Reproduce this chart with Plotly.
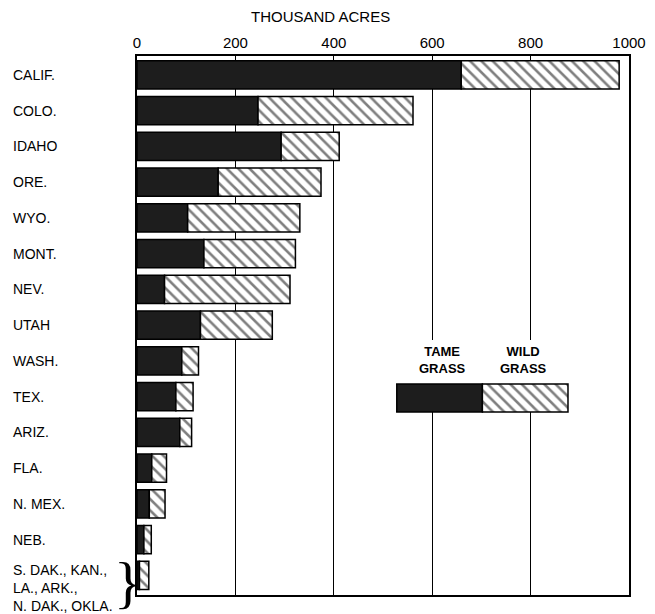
import plotly.graph_objects as go

# ---- data (thousand acres) ----
states = ["CALIF.", "COLO.", "IDAHO", "ORE.", "WYO.", "MONT.", "NEV.", "UTAH",
          "WASH.", "TEX.", "ARIZ.", "FLA.", "N. MEX.", "NEB.",
          "S. DAK., KAN.,<br>LA., ARK.,<br>N. DAK., OKLA."]
tame = [659, 246, 293, 165, 103, 136, 56, 129, 91, 79, 87, 30, 25, 14, 5]
total = [980, 561, 411, 374, 331, 322, 311, 275, 125, 114, 111, 60, 57, 29, 24]
wild = [t - m for t, m in zip(total, tame)]
x_ticks = [0, 200, 400, 600, 800, 1000]

# legend sample widths (data units on the x scale)
legend_start = 528
legend_tame = 174
legend_wild = 174

FONT = "Liberation Sans, Arial, sans-serif"
OFF = 8                      # page body margin offset
W, H = 655 - OFF, 614 - OFF
L, R, T, B = 137 - OFF, 26, 56 - OFF, 19
PW = W - L - R
PH = H - T - B


def py(pix):
    """window pixel row -> paper/y2 y (0..1 over plot area, bottom=0)"""
    return (H - B - (pix - OFF)) / PH


def px(pix):
    """window pixel column -> paper x"""
    return (pix - OFF - L) / PW


fig = go.Figure()
idx = list(range(len(states)))
hatch = dict(shape="\\", size=8, solidity=0.32, fgcolor="black", bgcolor="white")
dark = "#1d1d1d"

fig.add_trace(go.Bar(
    y=idx, x=tame, orientation="h", name="TAME GRASS",
    marker=dict(color=dark, line=dict(color="black", width=1.5)),
))
fig.add_trace(go.Bar(
    y=idx, x=wild, base=tame, orientation="h", name="WILD GRASS",
    marker=dict(color="white", line=dict(color="black", width=1.5), pattern=hatch),
))

# white block behind legend text (breaks the gridlines)
fig.add_trace(go.Bar(
    y=[(py(340) + py(384)) / 2], x=[legend_tame + legend_wild + 10],
    base=[legend_start - 5], orientation="h", yaxis="y2",
    width=py(340) - py(384), showlegend=False, hoverinfo="skip",
    marker=dict(color="white", line=dict(width=0)),
))
# legend sample bar
leg_y = py(398)
fig.add_trace(go.Bar(
    y=[leg_y], x=[legend_tame], base=[legend_start], orientation="h",
    yaxis="y2", width=py(384) - py(412), showlegend=False,
    marker=dict(color=dark, line=dict(color="black", width=1.5)),
))
fig.add_trace(go.Bar(
    y=[leg_y], x=[legend_wild], base=[legend_start + legend_tame], orientation="h",
    yaxis="y2", width=py(384) - py(412), showlegend=False,
    marker=dict(color="white", line=dict(color="black", width=1.5), pattern=hatch),
))

annotations = []
for i, s in enumerate(states):
    annotations.append(dict(
        x=px(11), xref="paper", y=i, yref="y",
        yshift=-13 if "<br>" in s else 0,
        text=s, showarrow=False, xanchor="left", yanchor="middle",
        align="left", font=dict(family=FONT, size=14, color="black"),
    ))
# brace for grouped states
annotations.append(dict(
    x=px(128), xref="paper", y=py(582), yref="paper",
    text="}", showarrow=False, xanchor="center", yanchor="middle",
    font=dict(family="Liberation Serif", size=58, color="black"),
))
# axis title
annotations.append(dict(
    x=px(320), xref="paper", y=py(17), yref="paper",
    text="THOUSAND ACRES", showarrow=False, xanchor="center", yanchor="middle",
    font=dict(family=FONT, size=15, color="black"),
))
# legend texts
annotations.append(dict(
    x=legend_start + legend_tame * 0.53, xref="x", y=py(360), yref="y2",
    text="<b>TAME<br>GRASS</b>", showarrow=False, xanchor="center", yanchor="middle",
    font=dict(family=FONT, size=13, color="black"),
))
annotations.append(dict(
    x=legend_start + legend_tame + legend_wild * 0.48, xref="x", y=py(360), yref="y2",
    text="<b>WILD<br>GRASS</b>", showarrow=False, xanchor="center", yanchor="middle",
    font=dict(family=FONT, size=13, color="black"),
))

fig.update_layout(
    width=W, height=H,
    margin=dict(l=L, r=R, t=T, b=B, autoexpand=False),
    paper_bgcolor="white", plot_bgcolor="white",
    barmode="overlay", bargap=0.21,
    showlegend=False,
    annotations=annotations,
    xaxis=dict(
        side="top", range=[0, 1000], tickvals=x_ticks,
        ticktext=[str(v) for v in x_ticks],
        tickfont=dict(family=FONT, size=15, color="black"),
        showgrid=True, gridcolor="black", gridwidth=1,
        showline=True, linecolor="black", linewidth=1.5, mirror=True,
        zeroline=False, ticks="", automargin=False,
    ),
    yaxis=dict(
        range=[14.55, -0.53], showticklabels=False, ticks="",
        showgrid=False, zeroline=False, automargin=False,
        showline=True, linecolor="black", linewidth=1.5, mirror=True,
    ),
    yaxis2=dict(overlaying="y", range=[0, 1], visible=False, automargin=False),
)

fig.write_html("out.html")
